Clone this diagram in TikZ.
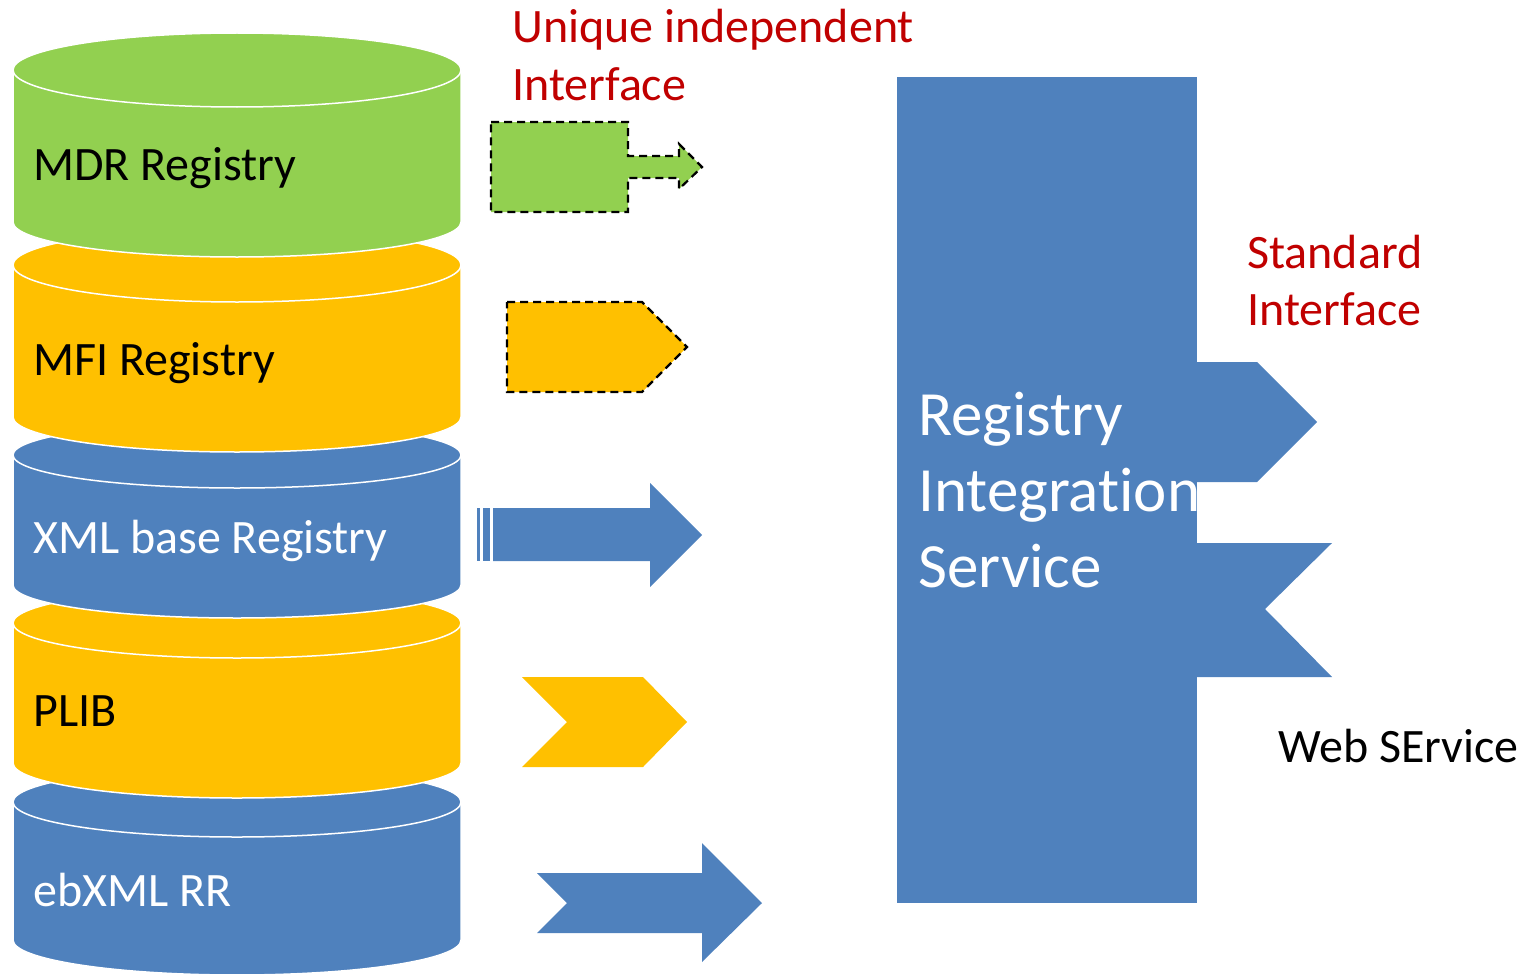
\documentclass[tikz,border=0pt]{standalone}
\usepackage{fontspec}
\setmainfont{Carlito}[Ligatures=NoCommon]
\definecolor{regblue}{HTML}{4F81BD}
\definecolor{mdrgreen}{HTML}{92D050}
\definecolor{mfiorange}{HTML}{FFC000}
\definecolor{ifred}{HTML}{C00000}

\begin{document}
\begin{tikzpicture}[x=1pt, y=-1pt,
    cyl/.style = {draw=white, line width=1.5pt},
    lbl/.style = {anchor=base west, inner sep=0pt, align=left, font=\fontsize{48}{58}\selectfont},
    iface/.style = {draw=black, line width=2.2pt, dash pattern=on 8pt off 5pt}]
	\useasboundingbox (0,0) rectangle (1528,974);
	% registries, lowest first
	\filldraw[cyl, fill=regblue] (13,802) -- (13,940) arc[start angle=180, end angle=360, x radius=224pt, y radius=35pt] -- (461,802) -- cycle;
	\filldraw[cyl, fill=regblue] (237,802) ellipse [x radius=224pt, y radius=35pt];
	\filldraw[cyl, fill=mfiorange] (13,623) -- (13,763) arc[start angle=180, end angle=360, x radius=224pt, y radius=35pt] -- (461,623) -- cycle;
	\filldraw[cyl, fill=mfiorange] (237,623) ellipse [x radius=224pt, y radius=35pt];
	\filldraw[cyl, fill=regblue] (13,455) -- (13,585) arc[start angle=180, end angle=360, x radius=224pt, y radius=33pt] -- (461,455) -- cycle;
	\filldraw[cyl, fill=regblue] (237,455) ellipse [x radius=224pt, y radius=33pt];
	\filldraw[cyl, fill=mfiorange] (13,265) -- (13,417) arc[start angle=180, end angle=360, x radius=224pt, y radius=35pt] -- (461,265) -- cycle;
	\filldraw[cyl, fill=mfiorange] (237,265) ellipse [x radius=224pt, y radius=37pt];
	\filldraw[cyl, fill=mdrgreen] (13,70) -- (13,222) arc[start angle=180, end angle=360, x radius=224pt, y radius=35pt] -- (461,70) -- cycle;
	\filldraw[cyl, fill=mdrgreen] (237,70) ellipse [x radius=224pt, y radius=37pt];
	\node[lbl] (mdr) at (33,180) {MDR Registry};
	\node[lbl] (mfi) at (33,375) {MFI Registry};
	\node[lbl, white] (xml) at (33,553) {XML base Registry};
	\node[lbl] (plib) at (33,726) {PLIB};
	\node[lbl, white] (ebxml) at (33,906) {ebXML RR};
	% interfaces of the registries
	\filldraw[iface, fill=mdrgreen] (491,122) -- (628,122) -- (628,156) -- (679,156) -- (679,144) -- (702,167) -- (679,189) -- (679,178) -- (628,178) -- (628,212) -- (491,212) -- cycle;
	\filldraw[iface, fill=mfiorange] (507,302) -- (642,302) -- (687,347) -- (642,392) -- (507,392) -- cycle;
	\fill[regblue] (477,508) rectangle (480,561);
	\fill[regblue] (483,508) rectangle (490,561);
	\fill[regblue] (493,508) -- (650,508) -- (650,483) -- (702,535) -- (650,587) -- (650,561) -- (493,561) -- cycle;
	\fill[mfiorange] (522,677) -- (643,677) -- (687,722) -- (643,767) -- (522,767) -- (567,722) -- cycle;
	\fill[regblue] (537,873) -- (702,873) -- (702,843) -- (762,903) -- (702,962) -- (702,933) -- (537,933) -- (567,903) -- cycle;
	\node[lbl, ifred] (uniq) at (512,100) {Unique independent\\Interface};
	% integration service
	\node[fill=regblue, inner sep=0pt, minimum width=300pt, minimum height=826pt, anchor=north west] (ris) at (897,77) {};
	\fill[regblue] (1197,362) -- (1257,362) -- (1317,422) -- (1257,482) -- (1197,482) -- cycle;
	\fill[regblue] (1197,543) -- (1332,543) -- (1265,609) -- (1332,677) -- (1197,677) -- cycle;
	\node[lbl, white, font=\fontsize{63}{76}\selectfont] (ristext) at (918,587) {Registry\\Integration\\Service};
	\node[lbl, ifred, font=\fontsize{48}{57}\selectfont] (std) at (1247,325) {Standard\\Interface};
	\node[lbl] (ws) at (1278,762) {Web SErvice};
\end{tikzpicture}
\end{document}
